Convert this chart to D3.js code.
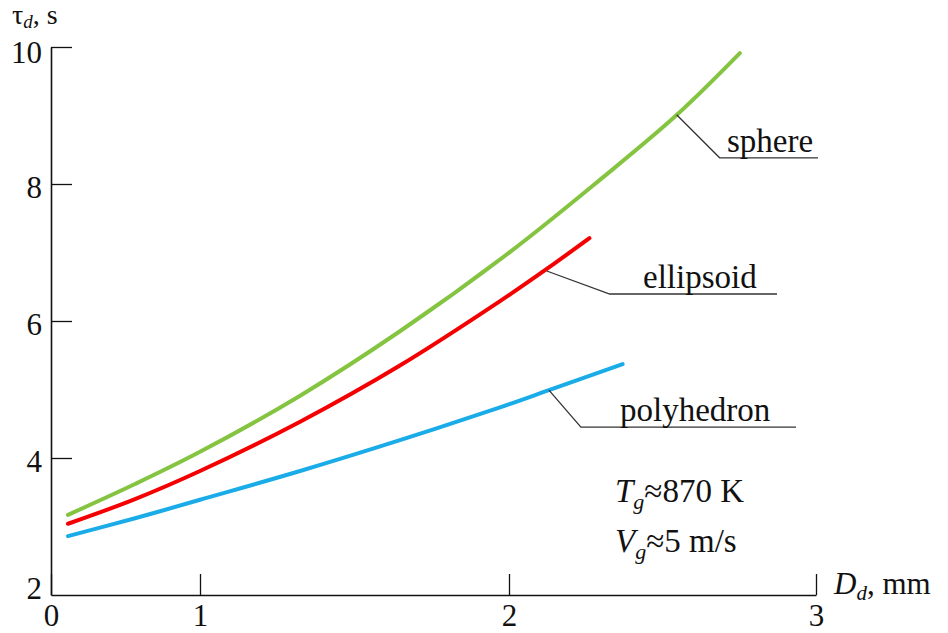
<!DOCTYPE html>
<html>
<head>
<meta charset="utf-8">
<script src="https://cdn.jsdelivr.net/npm/d3@7"></script>
<style>
  body { margin: 0; background: #fff; }
  svg { display: block; }
  svg text { font-family: "Times New Roman", "Liberation Serif", Tinos, "DejaVu Serif", serif; }
  .axis path, .axis line { stroke: #111; }
  .axis text { font-size: 31px; fill: #111; }
</style>
</head>
<body>
<div id="app"></div>
<script>
// values (D in mm, tau in s)
const xTicks = [0, 1, 2, 3];
const yTicks = [2, 4, 6, 8, 10];

const sphereD = [0.114, 0.564, 1.0, 1.324, 1.647, 2.007, 2.296, 2.547, 2.752];
const sphereT = [3.17, 3.62, 4.09, 4.91, 5.85, 7.02, 8.06, 9.01, 9.91];

const ellipsoidD = [0.114, 0.564, 1.0, 1.324, 1.647, 1.971, 2.123, 2.262];
const ellipsoidT = [3.04, 3.40, 3.81, 4.53, 5.35, 6.29, 6.76, 7.21];

const polyD = [0.114, 0.564, 1.0, 1.324, 1.647, 1.971, 2.13, 2.37];
const polyT = [2.86, 3.12, 3.39, 3.81, 4.26, 4.74, 4.99, 5.37];

const seriesNames = ['sphere', 'ellipsoid', 'polyhedron'];
const labelAnchorD = [2.546, 2.123, 2.13];
const labelAnchorT = [9.01, 6.73, 4.99];

const width = 948;
const height = 633;

const svg = d3.select('#app').append('svg')
  .attr('width', width)
  .attr('height', height);

// the original x axis is not evenly spaced, so keep its tick positions
const x = d3.scaleLinear().domain(xTicks).range([51, 200, 509, 816]);
const y = d3.scaleLinear().domain([2, 10]).range([595, 47]);

const xAxis = svg.append('g')
  .attr('class', 'axis')
  .attr('transform', `translate(0,${y(2)})`)
  .call(d3.axisBottom(x).tickValues(xTicks).tickFormat(d3.format('d'))
    .tickSizeInner(-21).tickSizeOuter(0).tickPadding(9));

const yAxis = svg.append('g')
  .attr('class', 'axis')
  .attr('transform', `translate(${x(0)},0)`)
  .call(d3.axisLeft(y).tickValues(yTicks).tickFormat(d3.format('d'))
    .tickSizeInner(-21).tickSizeOuter(0).tickPadding(9));

svg.selectAll('.axis').attr('font-family', null);
svg.selectAll('.axis path').attr('stroke-width', 1.6);
svg.selectAll('.axis line').attr('stroke-width', 1.3);
yAxis.selectAll('.tick text').attr('dy', '0.42em');
yAxis.selectAll('.tick').filter(d => d === 10).select('text').attr('dy', '0.5em');
yAxis.selectAll('.tick').filter(d => d === 2).select('line').remove();
yAxis.selectAll('.tick').filter(d => d === 2).select('text').attr('dy', '0.12em');

// axis titles
const yTitle = svg.append('text').attr('x', 12).attr('y', 24).attr('font-size', 28).attr('fill', '#111');
yTitle.append('tspan').text('τ');
yTitle.append('tspan').attr('font-size', 19).attr('font-style', 'italic').attr('dy', 4).text('d');
yTitle.append('tspan').attr('dy', -4).text(', s');

const xTitle = svg.append('text').attr('x', 834).attr('y', 594).attr('font-size', 31).attr('fill', '#111');
xTitle.append('tspan').attr('font-style', 'italic').text('D');
xTitle.append('tspan').attr('font-size', 21).attr('font-style', 'italic').attr('dy', 6).text('d');
xTitle.append('tspan').attr('dy', -6).text(', mm');

// curves
const line = d3.line()
  .x(d => x(d[0]))
  .y(d => y(d[1]))
  .curve(d3.curveCatmullRom.alpha(0.5));

const series = [
  { pts: d3.zip(sphereD, sphereT), color: '#84c441' },
  { pts: d3.zip(ellipsoidD, ellipsoidT), color: '#f40000' },
  { pts: d3.zip(polyD, polyT), color: '#1aace8' }
];

svg.selectAll('path.curve')
  .data(series)
  .join('path')
  .attr('class', 'curve')
  .attr('d', d => line(d.pts))
  .attr('fill', 'none')
  .attr('stroke', d => d.color)
  .attr('stroke-width', 4)
  .attr('stroke-linecap', 'round');

// leader lines with labels
const elbow = [[43, 43], [63, 23], [32, 37]];
const lineEnd = [818, 777, 796];
const textX = [727, 643, 620];

seriesNames.forEach((name, i) => {
  const ax = x(labelAnchorD[i]);
  const ay = y(labelAnchorT[i]);
  const ex = ax + elbow[i][0];
  const ey = ay + elbow[i][1];
  svg.append('path')
    .attr('d', `M${ax},${ay}L${ex},${ey}L${lineEnd[i]},${ey}`)
    .attr('fill', 'none')
    .attr('stroke', '#333')
    .attr('stroke-width', 1.3);
  svg.append('text')
    .attr('x', textX[i])
    .attr('y', ey - 6)
    .attr('font-size', 33)
    .attr('fill', '#111')
    .text(name);
});

// conditions
const cond = [['T', '≈870 K', 502], ['V', '≈5 m/s', 552]];
cond.forEach(([sym, rest, by]) => {
  const t = svg.append('text').attr('x', 615).attr('y', by).attr('font-size', 33).attr('fill', '#111');
  t.append('tspan').attr('font-style', 'italic').text(sym);
  t.append('tspan').attr('font-style', 'italic').attr('font-size', 22).attr('dy', 7).text('g');
  t.append('tspan').attr('dy', -7).text(rest);
});
</script>
</body>
</html>
